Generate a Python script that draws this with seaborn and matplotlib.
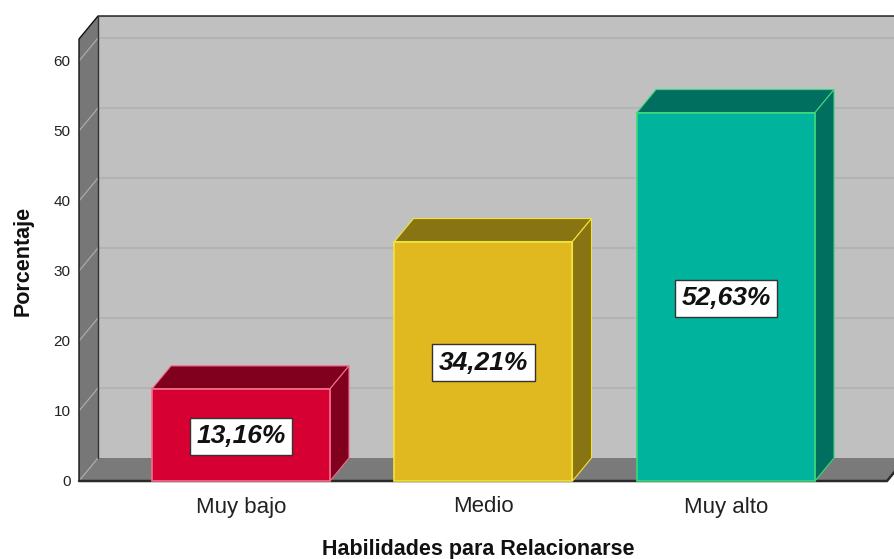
import matplotlib
matplotlib.use("Agg")
import matplotlib.pyplot as plt
import seaborn as sns
import pandas as pd
from matplotlib.patches import Polygon

# ---- data ----
categories = ["Muy bajo", "Medio", "Muy alto"]
percentages = [13.16, 34.21, 52.63]
value_labels = ["13,16%", "34,21%", "52,63%"]
y_ticks = [0, 10, 20, 30, 40, 50, 60]
x_title = "Habilidades para Relacionarse"
y_title = "Porcentaje"

# ---- styles ----
front_colors = ["#D70032", "#E0B920", "#00B39D"]
dark_colors = ["#80001E", "#897414", "#006F5F"]
edge_colors = ["#F2708E", "#F2E33A", "#3ED77C"]

sns.set_theme(style="white")
plt.rcParams["font.family"] = ["Liberation Sans", "DejaVu Sans"]

W, H = 895, 559
fig = plt.figure(figsize=(W / 100, H / 100), dpi=100)

# pixel geometry of the 3D box
ax_left_px, ax_right_px = 76, 895
ax_top_px, ax_bot_px = 14, 484
zero_px = 481
cat0_px = 241
px_per_cat = 242.5
px_per_unit = 7.0

ax = fig.add_axes([ax_left_px / W, (H - ax_bot_px) / H,
                   (ax_right_px - ax_left_px) / W, (ax_bot_px - ax_top_px) / H])

def xd(px):
    return (px - cat0_px) / px_per_cat

x_left = xd(79)
x_right = xd(896)
x_floor_end = xd(887)
y_top = (zero_px - 39) / px_per_unit
dx = 19 / px_per_cat
dy = 23 / px_per_unit
bar_w = 178 / px_per_cat

df = pd.DataFrame({"cat": categories, "pct": percentages})
sns.barplot(data=df, x="cat", y="pct", hue="cat", palette=front_colors,
            saturation=1, width=bar_w, legend=False, ax=ax, zorder=4)

for i, p in enumerate(ax.patches):
    p.set_edgecolor(edge_colors[i])
    p.set_linewidth(1.2)

# back wall
ax.add_patch(Polygon([(x_left + dx, dy), (x_right + 1, dy), (x_right + 1, y_top + dy),
                      (x_left + dx, y_top + dy)], closed=True, fc="#C0C0C0", ec="none", zorder=0))
# left wall
ax.add_patch(Polygon([(x_left, 0), (x_left + dx, dy), (x_left + dx, y_top + dy), (x_left, y_top)],
                     closed=True, fc="#777777", ec="none", zorder=0.5))
# floor
ax.add_patch(Polygon([(x_left, 0), (x_left + dx, dy), (x_floor_end + dx, dy), (x_floor_end, 0)],
                     closed=True, fc="#7A7A7A", ec="none", zorder=0.5))

# grid lines
for v in y_ticks:
    if v > 0:
        ax.plot([x_left + dx, x_right + 1], [v + dy, v + dy], color="#B3B3B3", lw=1.5, zorder=0.3)
    ax.plot([x_left, x_left + dx], [v, v + dy], color="#ABABAB", lw=0.9, zorder=0.8)

# box edges
ax.plot([x_left, x_left, x_left + dx, x_right + 1], [0, y_top, y_top + dy, y_top + dy],
        color="#111111", lw=1.0, zorder=1)
ax.plot([x_left + dx, x_left + dx], [dy, y_top + dy], color="#333333", lw=1.0, zorder=1)
ax.plot([x_left, x_floor_end, x_floor_end + dx], [0, 0, dy], color="#2A2A2A", lw=1.8, zorder=1)

# 3D faces of the bars
for i, h in enumerate(percentages):
    xl, xr = i - bar_w / 2, i + bar_w / 2
    top = [(xl, h), (xl + dx, h + dy), (xr + dx, h + dy), (xr, h)]
    side = [(xr, 0), (xr + dx, dy), (xr + dx, h + dy), (xr, h)]
    for poly in (top, side):
        ax.add_patch(Polygon(poly, closed=True, fc=dark_colors[i], ec=edge_colors[i],
                             lw=0.8, zorder=3))
    ax.text(i, h / 2 - 0.2, value_labels[i], ha="center", va="center", fontsize=19,
            fontweight="bold", fontstyle="italic", color="#111111", zorder=6,
            bbox=dict(boxstyle="square,pad=0.24", fc="white", ec="#333333", lw=1.0))

ax.set_xlim(xd(ax_left_px), xd(ax_right_px))
ax.set_ylim((zero_px - ax_bot_px) / px_per_unit, (zero_px - ax_top_px) / px_per_unit)
ax.set_yticks(y_ticks)
ax.set_yticklabels([str(v) for v in y_ticks], fontsize=11, color="#222222")
ax.set_xticks(range(len(categories)))
ax.set_xticklabels(categories, fontsize=16, color="#222222")
ax.tick_params(axis="y", length=0, pad=4)
ax.tick_params(axis="x", length=0, pad=9)
ax.set_xlabel("")
ax.set_ylabel("")
ax.grid(False)
for s in ax.spines.values():
    s.set_visible(False)
ax.set_facecolor("none")

fig.text(478 / W, 1 - 550 / H, x_title, ha="center", va="center", fontsize=15.5,
         fontweight="bold", color="#111111")
fig.text(23 / W, 1 - 261 / H, y_title, ha="center", va="center", rotation=90,
         fontsize=15.5, fontweight="bold", color="#111111")

fig.savefig("out.png", dpi=100)
